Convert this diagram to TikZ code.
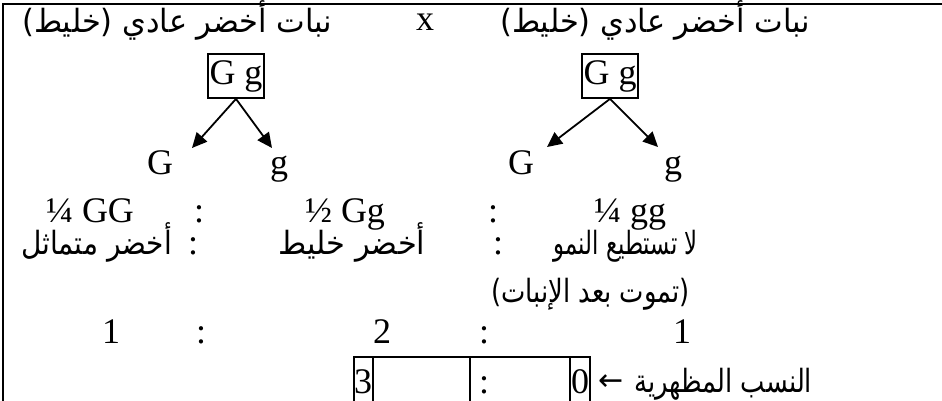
\documentclass[tikz,border=0pt]{standalone}
\usepackage{fontspec}
\setmainfont{Liberation Serif}
\newfontfamily\arabicfont[Script=Arabic,FakeStretch=0.95]{DejaVu Sans}
\newfontfamily\arrowfont{DejaVu Sans}
\TeXXeTstate=1
\newcommand\arb[1]{{\arabicfont\beginR #1\endR}}
\newcommand\narrow[2]{\scalebox{#1}[1]{#2}}
\usetikzlibrary{arrows.meta}
\begin{document}
\begin{tikzpicture}[x=1pt,y=-1pt,
  lat/.style={font=\fontsize{36}{40}\selectfont, inner sep=0pt, anchor=base},
  ara/.style={font=\fontsize{32}{36}\selectfont, inner sep=0pt, anchor=base},
  gbox/.style={draw, line width=1.8pt, minimum width=56pt, minimum height=44pt, inner sep=0pt, font=\fontsize{36}{40}\selectfont},
  arr/.style={-{Triangle[length=15pt,width=14pt]}, line width=1.8pt},
  frame/.style={line width=2pt},
  cell/.style={line width=2pt}]
\useasboundingbox (0,0) rectangle (942,401);
% frame
\draw[frame] (3,401) -- (3,4) -- (942,4);
% row 1
\node[ara, anchor=base west] (p1) at (22,33) {\arb{نبات أخضر عادي (خليط)}};
\node[lat] (cross) at (425,31) {x};
\node[ara, anchor=base west] (p2) at (500,33) {\arb{نبات أخضر عادي (خليط)}};
% genotype boxes
\node[gbox] (b1) at (236,76) {G g};
\node[gbox] (b2) at (610,76) {G g};
\coordinate (t1) at (192,148);
\coordinate (t2) at (272,148);
\coordinate (t3) at (547,147);
\coordinate (t4) at (658,147);
\draw[arr] (b1.south) -- (t1);
\draw[arr] (b1.south) -- (t2);
\draw[arr] (b2.south) -- (t3);
\draw[arr] (b2.south) -- (t4);
% gametes
\node[lat] (g1) at (160,175) {G};
\node[lat] (g2) at (279,175) {g};
\node[lat] (g3) at (521,175) {G};
\node[lat] (g4) at (673,175) {g};
% genotypes
\node[lat] (r1) at (90,222) {¼ GG};
\node[lat] (c1) at (199,222) {:};
\node[lat] (r2) at (345,222) {½ Gg};
\node[lat] (c2) at (493,222) {:};
\node[lat] (r3) at (630,222) {¼ gg};
% phenotypes
\node[ara, anchor=base west] (f1) at (21,254) {\narrow{0.92}{\arb{أخضر متماثل}}};
\node[lat] (c3) at (193,254) {:};
\node[ara] (f2) at (352,254) {\arb{أخضر خليط}};
\node[lat] (c4) at (498,254) {:};
\node[ara, anchor=base east] (f3) at (698,254) {\narrow{0.75}{\arb{لا تستطيع النمو}}};
\node[ara, anchor=base east] (f4) at (690,302) {\narrow{0.85}{\arb{(تموت بعد الإنبات)}}};
% ratios
\node[lat] (n1) at (111,343) {1};
\node[lat] (c5) at (201,343) {:};
\node[lat] (n2) at (382,343) {2};
\node[lat] (c6) at (484,343) {:};
\node[lat] (n3) at (682,343) {1};
% bottom cells
\draw[cell] (354,401) -- (354,357) -- (590,357) -- (590,401);
\draw[cell] (373,357) -- (373,401);
\draw[cell] (470,357) -- (470,401);
\draw[cell] (570,357) -- (570,401);
\node[lat] (v3) at (363,393) {3};
\node[lat] (c7) at (484,393) {:};
\node[lat] (v0) at (580,393) {0};
\node[inner sep=0pt, anchor=base west, font=\fontsize{30}{34}\selectfont] (arrow) at (598,390) {\arrowfont ←};
\node[ara, anchor=base west] (lbl) at (634,392) {\narrow{0.85}{\arb{النسب المظهرية}}};
\end{tikzpicture}
\end{document}
